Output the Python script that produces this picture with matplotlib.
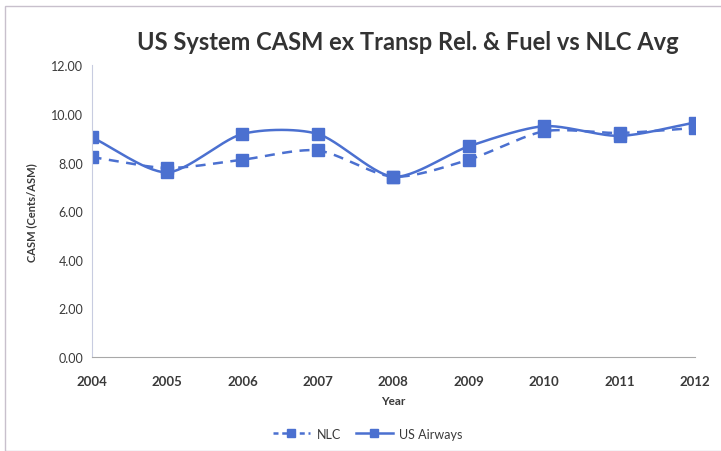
#!/usr/bin/env python3

import numpy as np
import matplotlib.pyplot as plt
from matplotlib.patches import Rectangle

years = [2004, 2005, 2006, 2007, 2008, 2009, 2010, 2011, 2012]
nlc = [8.23, 7.78, 8.12, 8.50, 7.42, 8.12, 9.29, 9.22, 9.43]
us_airways = [9.05, 7.60, 9.18, 9.18, 7.42, 8.67, 9.50, 9.10, 9.65]
yticks = [0, 2, 4, 6, 8, 10, 12]

line_col = '#4b70d0'
text_col = '#3a3a3a'


def smooth(x, y, n=30, k=0.8):
    # Catmull-Rom style curve through the points (like Excel's smoothed line)
    x = np.asarray(x, float)
    y = np.asarray(y, float)
    px = np.concatenate([[2*x[0]-x[1]], x, [2*x[-1]-x[-2]]])
    py = np.concatenate([[2*y[0]-y[1]], y, [2*y[-1]-y[-2]]])
    xs, ys = [], []
    t = np.linspace(0, 1, n)
    for i in range(1, len(px)-2):
        for p, out in ((px, xs), (py, ys)):
            p0, p1, p2, p3 = p[i-1], p[i], p[i+1], p[i+2]
            # cubic bezier with tangent scaled by k
            c1 = p1 + k*(p2 - p0)/6
            c2 = p2 - k*(p3 - p1)/6
            out.append((1-t)**3*p1 + 3*(1-t)**2*t*c1 + 3*(1-t)*t**2*c2 + t**3*p2)
    return np.concatenate(xs), np.concatenate(ys)


plt.rcParams['font.family'] = ['Lato', 'DejaVu Sans']

fig = plt.figure(figsize=(7.21, 4.52), dpi=100)
ax = fig.add_axes([0.127, 0.208, 0.837, 0.645])

# chart frame
fig.patches.append(Rectangle((5/721, 0), 1, 1 - 7/452, transform=fig.transFigure,
                             fill=False, edgecolor='#c8c0cc', linewidth=1.0))

sx, sy = smooth(years, nlc)
ax.plot(sx, sy, color=line_col, linewidth=1.8, linestyle=(0, (4, 3)))
ax.plot(years, nlc, linestyle='none', marker='s', markersize=8, color=line_col)

sx, sy = smooth(years, us_airways)
ax.plot(sx, sy, color=line_col, linewidth=1.8)
ax.plot(years, us_airways, linestyle='none', marker='s', markersize=8, color=line_col)

ax.set_xlim(years[0], years[-1])
ax.set_ylim(0, 12)
ax.set_xticks(years)
ax.set_yticks(yticks)
ax.set_yticklabels(['%.2f' % v for v in yticks])
ax.tick_params(length=0, labelsize=9, colors=text_col, pad=6)
ax.tick_params(axis='x', pad=13, labelsize=9.5)
for lab in ax.get_xticklabels():
    lab.set_fontweight('bold')

for s in ['top', 'right']:
    ax.spines[s].set_visible(False)
ax.spines['left'].set_color('#c8cce0')
ax.spines['bottom'].set_color('#a8a8a8')

ax.set_ylabel('CASM (Cents/ASM)', fontsize=8, fontweight='bold', color=text_col, labelpad=10)
ax.set_xlabel('Year', fontsize=8.5, fontweight='bold', color=text_col, labelpad=6)

fig.text(0.565, 0.905, 'US System CASM ex Transp Rel. & Fuel vs NLC Avg',
         ha='center', va='center', fontsize=17, fontweight='bold', color='#333333')

h1, = ax.plot([], [], color=line_col, linewidth=1.8, linestyle=(0, (2, 1.5)), marker='s', markersize=6)
h2, = ax.plot([], [], color=line_col, linewidth=1.8, marker='s', markersize=6)
fig.legend([h1, h2], ['NLC', 'US Airways'], loc='center', bbox_to_anchor=(0.51, 0.038),
           ncol=2, frameon=False, fontsize=9, handlelength=3, columnspacing=1.2,
           handletextpad=0.5, labelcolor=text_col)

plt.savefig('out.png', dpi=100)
